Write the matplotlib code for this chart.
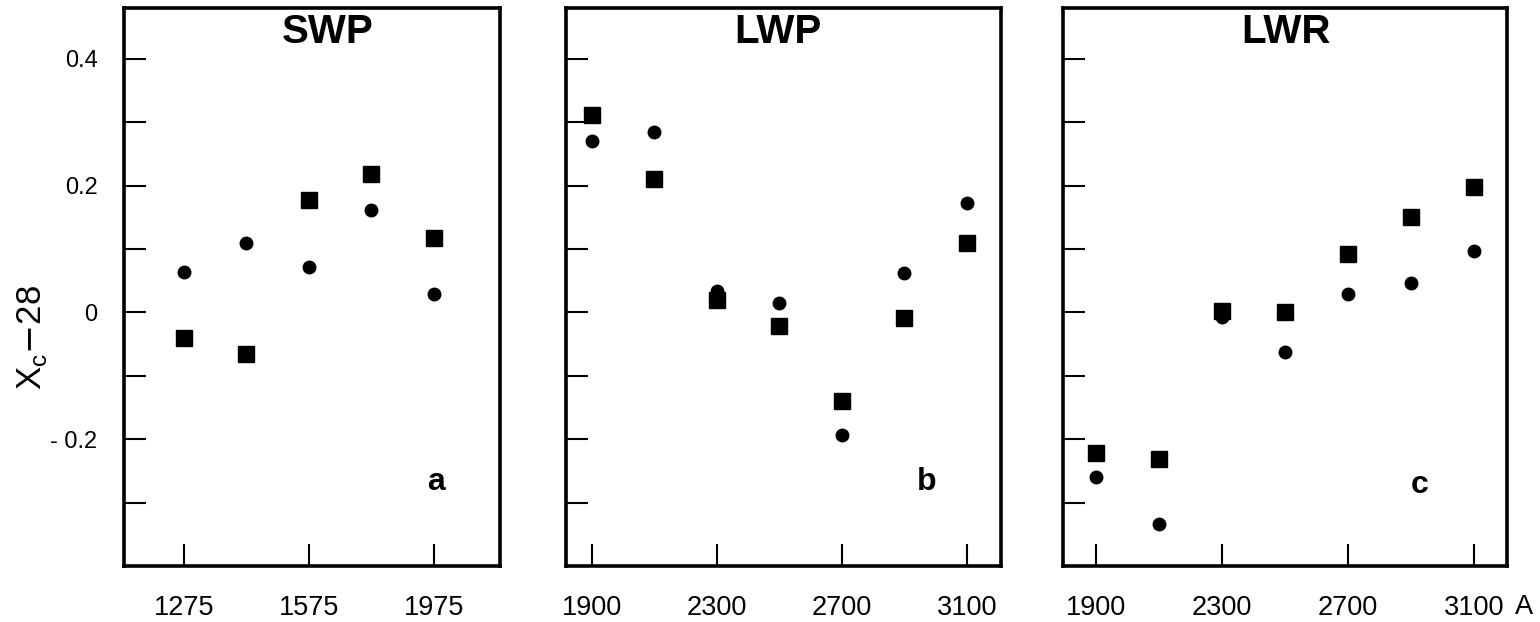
import matplotlib
matplotlib.use("Agg")
import matplotlib.pyplot as plt

plt.rcParams['font.family'] = ['Liberation Sans', 'DejaVu Sans']

# ---- data ----
swp_band = [0, 1, 2, 3, 4]
swp_tick_pos = [0, 2, 4]
swp_tick_labels = ['1275', '1575', '1975']
swp_circle = [0.063, 0.110, 0.072, 0.161, 0.029]
swp_square = [-0.041, -0.066, 0.177, 0.218, 0.117]

lw_wavelength = [1900, 2100, 2300, 2500, 2700, 2900, 3100]
lw_ticks = [1900, 2300, 2700, 3100]
lw_tick_labels = ['1900', '2300', '2700', '3100']
lwp_circle = [0.271, 0.284, 0.033, 0.015, -0.193, 0.062, 0.172]
lwp_square = [0.312, 0.210, 0.020, -0.021, -0.139, -0.009, 0.109]
lwr_circle = [-0.260, -0.333, -0.007, -0.063, 0.029, 0.046, 0.097]
lwr_square = [-0.222, -0.232, 0.002, 0.000, 0.092, 0.151, 0.198]

y_ticks = [-0.3, -0.2, -0.1, 0.0, 0.1, 0.2, 0.3, 0.4]
y_tick_labels = ['', '- 0.2', '', '0', '', '0.2', '', '0.4']

titles = ['SWP', 'LWP', 'LWR']
panel_letters = ['a', 'b', 'c']

# ---- layout ----
W, H = 1540, 622
fig = plt.figure(figsize=(W / 100, H / 100), dpi=100)
fig.patch.set_facecolor('white')

def px_axes(l, r, t, b):
    return fig.add_axes([l / W, (H - b) / H, (r - l) / W, (b - t) / H])

ax1 = px_axes(124, 500, 8, 566)
ax2 = px_axes(566, 1001, 8, 566)
ax3 = px_axes(1063, 1507, 8, 566)
axes = [ax1, ax2, ax3]

ax1.plot(swp_band, swp_circle, 'o', color='black', ms=9, zorder=3)
ax1.plot(swp_band, swp_square, 's', color='black', ms=11.5, zorder=2)
ax1.set_xlim(-0.96, 5.06)
ax1.set_xticks(swp_tick_pos)
ax1.set_xticklabels(swp_tick_labels)

ax2.plot(lw_wavelength, lwp_square, 's', color='black', ms=11.5, zorder=2)
ax2.plot(lw_wavelength, lwp_circle, 'o', color='black', ms=9, zorder=3)
ax2.set_xlim(1817, 3209)

ax3.plot(lw_wavelength, lwr_circle, 'o', color='black', ms=9, zorder=2)
ax3.plot(lw_wavelength, lwr_square, 's', color='black', ms=11.5, zorder=3)
ax3.set_xlim(1795, 3205)

for ax in (ax2, ax3):
    ax.set_xticks(lw_ticks)
    ax.set_xticklabels(lw_tick_labels)

title_x = [0.543, 0.487, 0.502]
letter_xy = [(0.83, 0.15), (0.83, 0.15), (0.804, 0.145)]
for i, ax in enumerate(axes):
    ax.set_ylim(-0.40, 0.48)
    ax.set_yticks(y_ticks)
    if i == 0:
        ax.set_yticklabels(y_tick_labels)
    else:
        ax.set_yticklabels([])
    ax.tick_params(axis='both', direction='in', length=16, width=1.5, colors='black')
    ax.tick_params(axis='x', labelsize=19.5, pad=21)
    ax.tick_params(axis='y', labelsize=17, pad=19)
    for s in ax.spines.values():
        s.set_linewidth(2.6)
        s.set_color('black')
    ax.text(title_x[i], 0.957, titles[i], transform=ax.transAxes, ha='center', va='center',
            fontsize=29, fontweight='bold')
    ax.text(letter_xy[i][0], letter_xy[i][1], panel_letters[i], transform=ax.transAxes,
            ha='center', va='center', fontsize=23, fontweight='bold')

fig.text(1524 / W, (H - 607) / H, 'A', ha='center', va='center', fontsize=19.5)
fig.text(32 / W, (H - 338) / H, r'X$_\mathregular{c}$$-$28', rotation=90, ha='center', va='center',
         fontsize=25)

fig.savefig('out.png', dpi=100, facecolor='white')
